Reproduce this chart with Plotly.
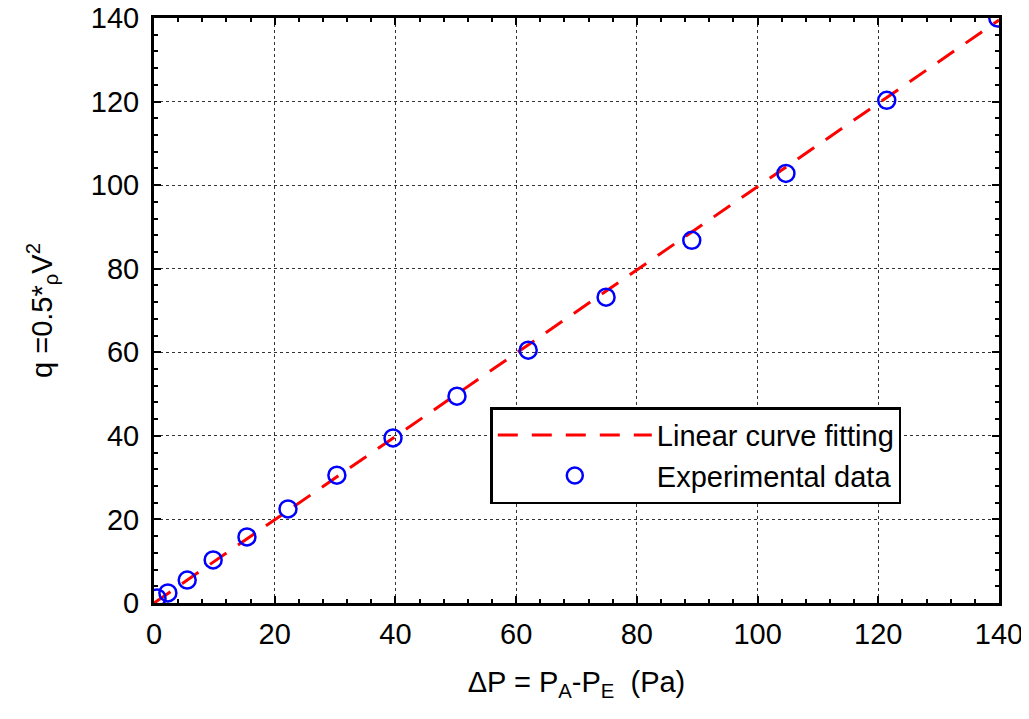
import plotly.graph_objects as go

# Experimental data
dp = [0.5, 2.3, 5.5, 9.8, 15.4, 22.2, 30.3, 39.6, 50.2, 62.0, 74.9, 89.1, 104.7, 121.4, 139.8]
q = [1.2, 2.4, 5.5, 10.3, 15.8, 22.5, 30.6, 39.5, 49.5, 60.5, 73.2, 86.8, 102.8, 120.3, 140.0]

# Linear fit end points
fit_x = [0, 140]
fit_y = [0, 139.5]

font = "Liberation Sans, Arial, sans-serif"

fig = go.Figure()

fig.add_trace(
    go.Scatter(
        x=fit_x,
        y=fit_y,
        mode="lines",
        line=dict(color="red", width=3, dash="20px,14px"),
        name="Linear curve fitting",
    )
)

fig.add_trace(
    go.Scatter(
        x=dp,
        y=q,
        mode="markers",
        marker=dict(symbol="circle-open", size=17, color="blue", line=dict(width=2.5, color="blue")),
        name="Experimental data",
    )
)

axis_common = dict(
    automargin=False,
    ticklabeloverflow="allow",
    showline=True,
    linecolor="black",
    linewidth=3,
    mirror="allticks",
    ticks="inside",
    ticklen=7,
    tickwidth=1.5,
    tickcolor="black",
    showgrid=True,
    gridcolor="#333333",
    gridwidth=1,
    griddash="3px,3px",
    zeroline=False,
    tickfont=dict(size=29, color="black", family=font),
    dtick=20,
    minor=dict(ticks="inside", ticklen=4, tickwidth=1.5, tickcolor="black", dtick=4, showgrid=False),
)

fig.update_xaxes(
    range=[0, 140],
    ticklabelstandoff=3,
    title=dict(
        text="ΔP = P<sub>A</sub>-P<sub>E</sub>  (Pa)",
        font=dict(size=29, color="black", family=font),
        standoff=23,
    ),
    **axis_common,
)
fig.update_yaxes(
    range=[0, 140],
    ticklabelstandoff=6,
    title=dict(
        text="q =0.5*<sub>ρ</sub>V<sup>2</sup>",
        font=dict(size=29, color="black", family=font),
        standoff=30,
    ),
    **axis_common,
)

# page body adds an 8px margin, so the figure is sized to fit inside it
fig.update_layout(
    width=1021,
    height=711,
    margin=dict(l=146, r=30, t=10, b=116),
    plot_bgcolor="white",
    paper_bgcolor="white",
    showlegend=True,
    legend=dict(
        x=0.398,
        y=0.335,
        xanchor="left",
        yanchor="top",
        bgcolor="white",
        bordercolor="black",
        borderwidth=2.5,
        font=dict(size=29, color="black", family=font),
        itemwidth=154,
        tracegroupgap=0,
    ),
)

fig.write_html("out.html")
